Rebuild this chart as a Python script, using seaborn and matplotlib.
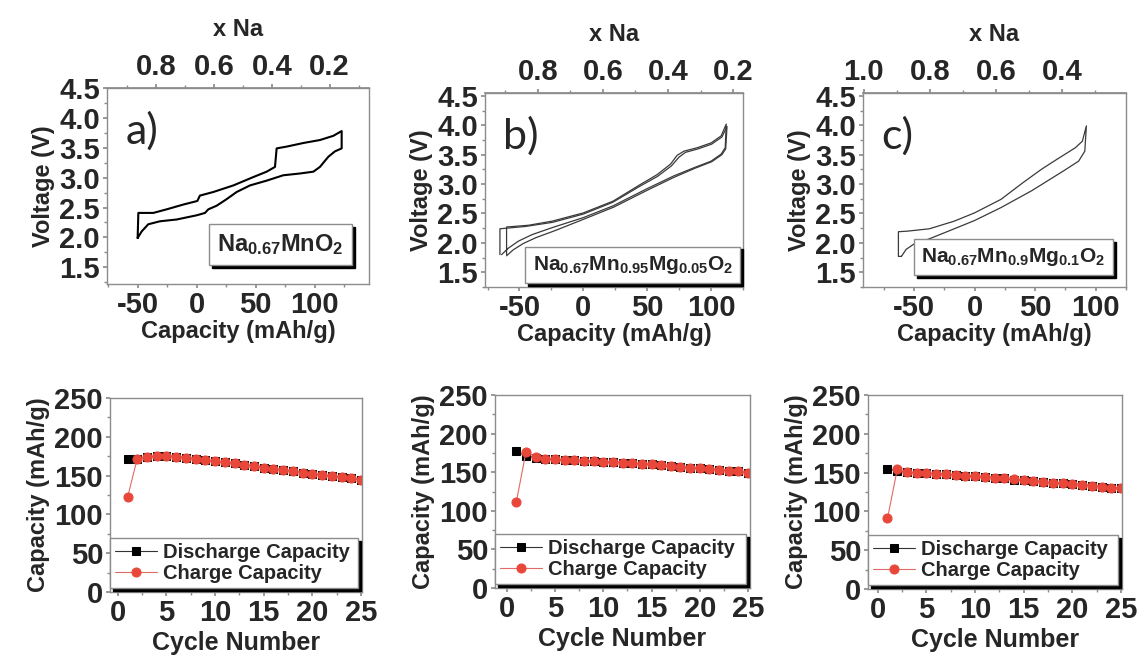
#import necessary libraries

import numpy as np
import pandas as pd
import matplotlib
matplotlib.use("Agg")
import matplotlib.pyplot as plt
from matplotlib.lines import Line2D
import seaborn as sns

#data

# a) Na0.67MnO2 loop (capacity mAh/g, voltage V)
cap_a = [-50.0, -46.6, -41.0, -31.1, -16.9, 0.0, 7.1, 9.9, 16.9, 25.4, 33.9, 45.2, 59.3, 73.4,
         87.6, 98.9, 104.5, 111.6, 117.2, 122.9, 122.9, 115.8, 104.5, 90.4, 76.3, 67.8, 66.4,
         59.3, 48.0, 31.1, 14.1, 2.8, 0.6, -11.3, -25.4, -36.7, -49.4, -50.0]
volt_a = [1.99, 2.10, 2.22, 2.27, 2.30, 2.37, 2.41, 2.47, 2.53, 2.64, 2.76, 2.87, 2.95, 3.04,
          3.07, 3.10, 3.18, 3.35, 3.44, 3.49, 3.78, 3.70, 3.63, 3.58, 3.52, 3.49, 3.18,
          3.10, 3.01, 2.87, 2.76, 2.70, 2.61, 2.55, 2.47, 2.41, 2.41, 1.99]

# b) Na0.67Mn0.95Mg0.05O2, two cycles
cap_b1 = [-64.0, -58.7, -50.8, -40.2, -24.3, 0.0, 23.3, 49.7, 70.9, 86.8, 100.0, 107.9, 111.1,
          111.9, 107.9, 100.0, 89.4, 78.8, 73.5, 68.3, 57.7, 44.4, 23.3, 0.0, -24.3, -42.9,
          -60.1, -60.1]
volt_b1 = [1.80, 1.91, 2.03, 2.14, 2.26, 2.43, 2.63, 2.92, 3.14, 3.28, 3.39, 3.51, 3.62,
           4.02, 3.82, 3.70, 3.62, 3.56, 3.49, 3.34, 3.16, 2.99, 2.71, 2.51, 2.37, 2.30,
           2.27, 1.80]
cap_b2 = [-60.1, -55.0, -47.0, -37.0, -22.0, 0.0, 24.0, 50.5, 71.5, 87.5, 100.5, 108.5, 111.5,
          112.5, 108.5, 100.5, 90.0, 80.0, 75.0, 69.0, 58.0, 44.0, 23.0, 0.0, -24.0, -45.0,
          -65.3, -65.3]
volt_b2 = [1.78, 1.88, 1.99, 2.09, 2.21, 2.40, 2.61, 2.90, 3.12, 3.27, 3.38, 3.50, 3.60,
           3.98, 3.80, 3.68, 3.60, 3.54, 3.46, 3.31, 3.13, 2.96, 2.69, 2.49, 2.35, 2.28,
           2.24, 1.80]

# c) Na0.67Mn0.9Mg0.1O2
cap_c = [-60.3, -56.4, -50.0, -37.2, -16.7, 0.0, 21.8, 47.4, 73.1, 85.9, 91.0, 92.3, 89.0,
         83.3, 75.6, 67.9, 55.1, 39.7, 21.8, 0.0, -16.7, -37.2, -55.1, -62.8, -62.8, -60.3]
volt_c = [1.77, 1.89, 1.98, 2.07, 2.24, 2.38, 2.60, 2.89, 3.22, 3.39, 3.56, 3.99, 3.73,
          3.62, 3.52, 3.42, 3.25, 3.02, 2.74, 2.51, 2.37, 2.24, 2.20, 2.19, 1.77, 1.77]

# cycling data
cycles = list(range(1, 26))
dis_a = [171, 172, 174, 175.5, 175.5, 174.5, 173, 172, 170, 169, 167, 166, 164, 162.5, 160,
         159, 157, 156, 154, 152.5, 151, 149.5, 148, 147, 144]
chg_a = [122, 172, 174, 175.5, 175.5, 174.5, 173, 172, 170, 169, 167, 166, 164, 162.5, 160,
         159, 157, 156, 154, 152.5, 151, 149.5, 148, 147, 144]
dis_b = [177, 171, 169, 167.7, 166.8, 166, 165.5, 165, 164, 163.8, 163, 162.5, 161.6, 160.8,
         160, 159, 158, 157, 156, 155, 154, 153.4, 152, 151, 149.6]
chg_b = [111, 176, 170, 167.7, 166.8, 166, 165.5, 165, 164, 163.8, 163, 162.5, 161.6, 160.8,
         160, 159, 158, 157, 156, 155, 154, 153.4, 152, 151, 149.6]
dis_c = [155, 152, 150.4, 150, 149.6, 148.3, 147.8, 147, 146, 145, 144.4, 143.5, 142.7, 140.5,
         140.5, 139.7, 138, 137, 136, 135.3, 134.5, 133, 132, 130.6, 129.7]
chg_c = [91, 154, 150.4, 150, 149.6, 148.3, 147.8, 147, 146, 145, 144.4, 143.5, 142.7, 141.5,
         140.5, 139.7, 138, 137, 136, 135.3, 134.5, 133, 132, 130.6, 129.7]

#style

sns.set_theme(style="ticks")
plt.rcParams["font.family"] = ["Liberation Sans", "DejaVu Sans"]
plt.rcParams["font.weight"] = "bold"
plt.rcParams["axes.labelweight"] = "bold"
plt.rcParams["axes.unicode_minus"] = False
plt.rcParams["mathtext.fontset"] = "custom"
plt.rcParams["mathtext.rm"] = "Liberation Sans:bold"
plt.rcParams["mathtext.bf"] = "Liberation Sans:bold"
plt.rcParams["mathtext.it"] = "Liberation Sans:bold"

RED = "#e8473a"
GREY = "#8c8c8c"
TICK_SIZE = 21

fig = plt.figure(figsize=(11.39, 6.57), dpi=100)


def bold_ticks(axis_obj):
    for lab in axis_obj.get_ticklabels():
        lab.set_fontweight("bold")


def style_axes(ax):
    for s in ax.spines.values():
        s.set_visible(True)
        s.set_color(GREY)
        s.set_linewidth(1.0)
    ax.tick_params(which="both", direction="out", color=GREY, labelsize=TICK_SIZE, pad=2)
    ax.tick_params(which="major", length=3)
    ax.tick_params(which="minor", length=2)
    bold_ticks(ax.xaxis)
    bold_ticks(ax.yaxis)


def name_box(ax, label, anchor, size):
    leg = ax.legend(handles=[Line2D([], [], ls="none")], labels=[label], loc="lower right",
                    bbox_to_anchor=anchor, handlelength=0, handletextpad=0,
                    fontsize=size, fancybox=False, edgecolor=GREY, framealpha=1,
                    borderaxespad=0, borderpad=0.35,
                    shadow={"color": "black", "alpha": 1})
    leg.get_frame().set_linewidth(1.0)


#top row: voltage profiles

top_panels = [
    ([0.0939, 0.5677, 0.2300, 0.2983], [(cap_a, volt_a)], (-76, 146), (1.22, 4.5),
     (0.66, 245), [0.8, 0.6, 0.4, 0.2], "a)",
     r"$\mathbf{Na}_{\mathbf{0.67}}\mathbf{MnO}_{\mathbf{2}}$", (0.935, 0.095), 17,
     "black", 1.5),
    ([0.4258, 0.5632, 0.2265, 0.2953], [(cap_b1, volt_b1), (cap_b2, volt_b2)], (-77, 124),
     (1.25, 4.55), (0.66, 255), [0.8, 0.6, 0.4, 0.2], "b)",
     r"$\mathbf{Na}_{\mathbf{0.67}}\mathbf{Mn}_{\mathbf{0.95}}\mathbf{Mg}_{\mathbf{0.05}}\mathbf{O}_{\mathbf{2}}$",
     (0.99, 0.02), 15, "#3a3a3a", 0.9),
    ([0.7577, 0.5632, 0.2309, 0.2953], [(cap_c, volt_c)], (-92, 112), (1.25, 4.55),
     (0.665, 273), [1.0, 0.8, 0.6, 0.4], "c)",
     r"$\mathbf{Na}_{\mathbf{0.67}}\mathbf{Mn}_{\mathbf{0.9}}\mathbf{Mg}_{\mathbf{0.1}}\mathbf{O}_{\mathbf{2}}$",
     (0.95, 0.06), 15, "#3a3a3a", 0.9),
]

for rect, loops, xlim, ylim, (n0, k), na_ticks, tag, name, anchor, nsize, col, lw in top_panels:
    ax = fig.add_axes(rect)
    for cap, volt in loops:
        df = pd.DataFrame({"cap": cap, "volt": volt})
        sns.lineplot(data=df, x="cap", y="volt", sort=False, estimator=None,
                     color=col, lw=lw, ax=ax)
    ax.set_xlim(*xlim)
    ax.set_ylim(*ylim)
    ax.set_xticks([-50, 0, 50, 100])
    ax.set_xticks([-75, -25, 25, 75, 125], minor=True)
    ax.set_yticks([1.5, 2.0, 2.5, 3.0, 3.5, 4.0, 4.5])
    ax.set_yticks(np.arange(1.25, 4.6, 0.25), minor=True)
    ax.yaxis.set_major_formatter(matplotlib.ticker.FormatStrFormatter("%.1f"))
    ax.set_xlabel("Capacity (mAh/g)", fontsize=17, labelpad=1)
    ax.set_ylabel("Voltage (V)", fontsize=17, labelpad=3)
    style_axes(ax)

    sec = ax.secondary_xaxis("top", functions=(lambda c, n0=n0, k=k: n0 - c / k,
                                               lambda n, n0=n0, k=k: (n0 - n) * k))
    sec.set_xticks(na_ticks)
    sec.set_xticks(np.arange(0.1, 1.05, 0.1), minor=True)
    sec.xaxis.set_major_formatter(matplotlib.ticker.FormatStrFormatter("%.1f"))
    sec.set_xlabel("x Na", fontsize=17, labelpad=12)
    sec.spines["top"].set_color(GREY)
    sec.tick_params(which="both", direction="out", color=GREY, labelsize=TICK_SIZE, pad=2)
    sec.tick_params(which="major", length=3)
    sec.tick_params(which="minor", length=2)
    bold_ticks(sec.xaxis)

    ax.text(0.07, 0.78, tag, transform=ax.transAxes, fontsize=31, fontweight="normal",
            family="Lato", va="center", ha="left")
    name_box(ax, name, anchor, nsize)

#bottom row: cycling

bottom_panels = [
    ([0.0966, 0.0989, 0.2212, 0.2953], dis_a, chg_a, (-0.8, 25.1)),
    ([0.4346, 0.1050, 0.2239, 0.2938], dis_b, chg_b, (-1.2, 25.2)),
    ([0.7621, 0.1035, 0.2230, 0.2953], dis_c, chg_c, (-1.0, 25.1)),
]

for rect, dis, chg, xlim in bottom_panels:
    ax = fig.add_axes(rect)
    sns.lineplot(x=cycles, y=dis, color="#333333", lw=0.8, marker="s", markersize=6,
                 markerfacecolor="black", markeredgecolor="black",
                 label="Discharge Capacity", ax=ax)
    sns.lineplot(x=cycles, y=chg, color="#e06a66", lw=0.8, marker="o", markersize=6.5,
                 markerfacecolor=RED, markeredgecolor=RED,
                 label="Charge Capacity", ax=ax)
    ax.set_xlim(*xlim)
    ax.set_ylim(0, 250)
    ax.set_xticks([0, 5, 10, 15, 20, 25])
    ax.set_xticks(np.arange(2.5, 25, 5), minor=True)
    ax.set_yticks([0, 50, 100, 150, 200, 250])
    ax.set_yticks(np.arange(25, 250, 50), minor=True)
    ax.set_xlabel("Cycle Number", fontsize=18, labelpad=3)
    ax.set_ylabel("Capacity (mAh/g)", fontsize=17, labelpad=3)
    style_axes(ax)
    leg = ax.legend(loc="lower left", bbox_to_anchor=(0.0, 0.02, 0.985, 0.29), mode="expand",
                    borderaxespad=0, fontsize=14.5, fancybox=False, edgecolor=GREY,
                    framealpha=1, handlelength=2.1, handletextpad=0.3, labelspacing=0.1,
                    borderpad=0.25, shadow={"color": "black", "alpha": 1})
    leg.get_frame().set_linewidth(1.0)

plt.savefig("out.png", dpi=100)
